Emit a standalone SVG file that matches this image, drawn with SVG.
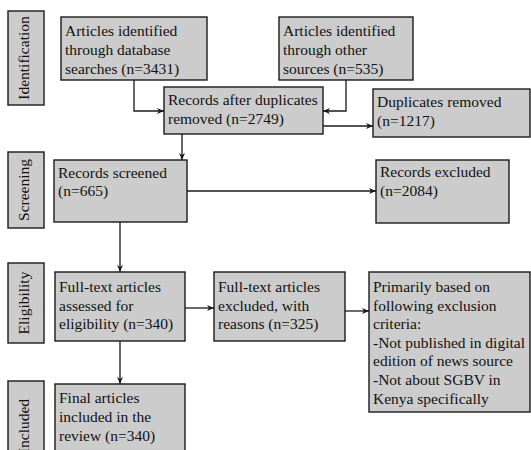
<svg xmlns="http://www.w3.org/2000/svg" width="531" height="450" viewBox="0 0 531 450">
<style>
.box{fill:#cccccc;stroke:#1a1a1a;stroke-width:1.4}
text{font-family:"Liberation Serif","Times New Roman",serif;font-size:15.5px;fill:#111}
.side{text-anchor:middle}
.con{fill:none;stroke:#1a1a1a;stroke-width:1.3;marker-end:url(#arr)}
</style>
<defs>
<marker id="arr" markerUnits="userSpaceOnUse" markerWidth="8" markerHeight="6" refX="7" refY="3" orient="auto">
<path d="M0,0 L7,3 L0,6 L2,3 z" fill="#1a1a1a"/>
</marker>
</defs>
<rect width="531" height="450" fill="#ffffff"/>
<g id="stage-identification">
<rect class="box" x="8" y="11" width="36" height="94"/>
<text class="side" transform="translate(29,58) rotate(-90)">Identification</text>
</g>
<g id="stage-screening">
<rect class="box" x="8" y="152" width="36" height="76"/>
<text class="side" transform="translate(29,190) rotate(-90)">Screening</text>
</g>
<g id="stage-eligibility">
<rect class="box" x="8" y="263" width="36" height="80"/>
<text class="side" transform="translate(29,303) rotate(-90)">Eligibility</text>
</g>
<g id="stage-included">
<rect class="box" x="8" y="381" width="36" height="90"/>
<text class="side" transform="translate(29,426) rotate(-90)">Included</text>
</g>
<g id="db-search">
<rect class="box" x="61" y="17" width="146" height="63"/>
<text x="65" y="36">Articles identified</text>
<text x="65" y="55">through database</text>
<text x="65" y="73.5">searches (n=3431)</text>
</g>
<g id="other-sources">
<rect class="box" x="279" y="17" width="134" height="63"/>
<text x="283" y="36">Articles identified</text>
<text x="283" y="55">through other</text>
<text x="283" y="73.5">sources (n=535)</text>
</g>
<g id="after-duplicates">
<rect class="box" x="164" y="87" width="159" height="47"/>
<text x="168" y="105">Records after duplicates</text>
<text x="168" y="123.5">removed (n=2749)</text>
</g>
<g id="duplicates-removed">
<rect class="box" x="373" y="89" width="157" height="48"/>
<text x="377" y="107">Duplicates removed</text>
<text x="377" y="125.5">(n=1217)</text>
</g>
<g id="screened">
<rect class="box" x="54" y="160" width="133" height="62"/>
<text x="58" y="177.5">Records screened</text>
<text x="58" y="196">(n=665)</text>
</g>
<g id="excluded">
<rect class="box" x="376" y="160" width="133" height="63"/>
<text x="380" y="177">Records excluded</text>
<text x="380" y="195.5">(n=2084)</text>
</g>
<g id="assessed">
<rect class="box" x="55" y="272" width="130" height="69"/>
<text x="59" y="292">Full-text articles</text>
<text x="59" y="310.5">assessed for</text>
<text x="59" y="329">eligibility (n=340)</text>
</g>
<g id="fulltext-excluded">
<rect class="box" x="214" y="272" width="131" height="69"/>
<text x="218" y="292">Full-text articles</text>
<text x="218" y="310.5">excluded, with</text>
<text x="218" y="329">reasons (n=325)</text>
</g>
<g id="criteria">
<rect class="box" x="369" y="272" width="161" height="140"/>
<text x="373" y="292">Primarily based on</text>
<text x="373" y="310.5">following exclusion</text>
<text x="373" y="329">criteria:</text>
<text x="373" y="347.5">-Not published in digital</text>
<text x="373" y="366">edition of news source</text>
<text x="373" y="385">-Not about SGBV in</text>
<text x="373" y="403.5">Kenya specifically</text>
</g>
<g id="final">
<rect class="box" x="55" y="384" width="130" height="90"/>
<text x="59" y="403">Final articles</text>
<text x="59" y="421.5">included in the</text>
<text x="59" y="440.5">review (n=340)</text>
</g>
<g id="connectors">
<path class="con" d="M134,80 V111 H164"/>
<path class="con" d="M346,80 V111 H323"/>
<path class="con" d="M323,126 H373"/>
<path class="con" d="M182,134 V160"/>
<path class="con" d="M187,191 H376"/>
<path class="con" d="M120,222 V272"/>
<path class="con" d="M185,308 H214"/>
<path class="con" d="M345,311 H369"/>
<path class="con" d="M120,341 V384"/>
</g>
</svg>
